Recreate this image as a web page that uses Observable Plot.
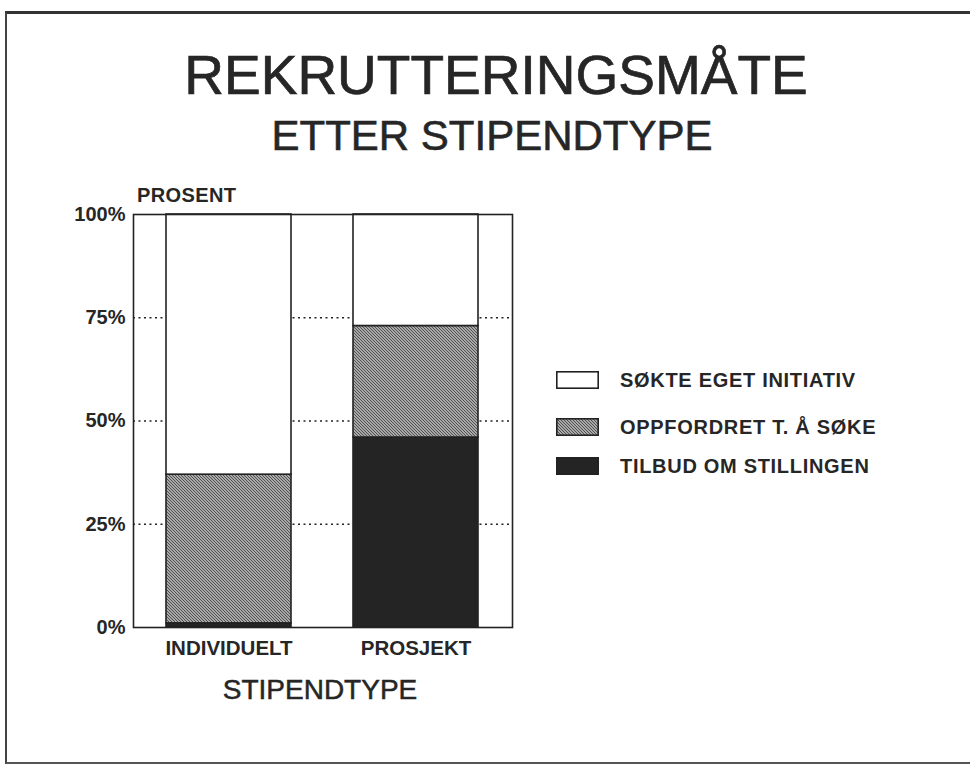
<!DOCTYPE html>
<html>
<head>
<meta charset="utf-8">
<script src="https://cdn.jsdelivr.net/npm/d3@7"></script>
<script src="https://cdn.jsdelivr.net/npm/@observablehq/plot@0.6"></script>
<style>
  html, body { margin: 0; padding: 0; background: #fff; }
  #wrap { position: relative; width: 970px; height: 765px; overflow: hidden; font-family: "Liberation Sans", Arial, Helvetica, sans-serif; color: #262626; }
  #border { position: absolute; left: 5px; top: 11px; width: 1000px; height: 748px; border-top: 3px solid #333; border-left: 2px solid #444; border-bottom: 2px solid #555; }
  .t { position: absolute; line-height: 1; white-space: nowrap; }
  #title { font-size: 55px; left: 496px; top: 48px; transform: translateX(-50%); -webkit-text-stroke: 0.7px #262626; }
  #subtitle { font-size: 42px; left: 492px; top: 115px; transform: translateX(-50%); -webkit-text-stroke: 0.6px #262626; }
  #prosent { font-size: 20px; font-weight: bold; left: 137px; top: 185px; letter-spacing: 0.4px; }
  #xlabel { font-size: 28px; left: 320px; top: 676px; transform: translateX(-50%); -webkit-text-stroke: 0.5px #262626; }
  #chart { position: absolute; left: 0; top: 0; }
  .leg { position: absolute; left: 556px; display: flex; align-items: center; }
  .leg svg { display: block; }
  .leg span { margin-left: 21px; font-size: 20px; font-weight: bold; letter-spacing: 0.7px; line-height: 1; }
  svg.chart g[aria-label="y-axis tick label"] text { font-size: 20px; font-weight: bold; }
  svg.chart g[aria-label="x-axis tick label"] text { font-size: 20.5px; font-weight: bold; }
</style>
</head>
<body>
<div id="wrap">
  <div id="border"></div>
  <div id="chart"></div>
  <div class="t" id="title">REKRUTTERINGSMÅTE</div>
  <div class="t" id="subtitle">ETTER STIPENDTYPE</div>
  <div class="t" id="prosent">PROSENT</div>
  <div class="t" id="xlabel">STIPENDTYPE</div>
  <div id="legend"></div>
</div>
<script>
// ---- data ----
const types = ["INDIVIDUELT", "PROSJEKT"];
const categories = ["TILBUD OM STILLINGEN", "OPPFORDRET T. Å SØKE", "SØKTE EGET INITIATIV"]; // bottom to top
const tilbud = [1, 46];
const oppfordret = [36, 27];
const sokte = [63, 27];
const yTicks = [0, 25, 50, 75, 100];
const legendOrder = ["SØKTE EGET INITIATIV", "OPPFORDRET T. Å SØKE", "TILBUD OM STILLINGEN"];

const series = [tilbud, oppfordret, sokte];
const data = [];
types.forEach((t, i) => {
  categories.forEach((c, j) => data.push({type: t, cat: c, value: series[j][i]}));
});

const fills = ["#242424", "url(#hatch)", "#ffffff"];

const chart = Plot.plot({
  width: 970,
  height: 765,
  marginLeft: 133,
  marginRight: 458,
  marginTop: 214,
  marginBottom: 138,
  className: "chart",
  style: {fontFamily: "'Liberation Sans', Arial, Helvetica, sans-serif", color: "#262626", background: "transparent", overflow: "visible"},
  x: {domain: types, paddingInner: 0.33, paddingOuter: 0.173, label: null},
  y: {domain: [0, 100], label: null},
  color: {domain: categories, range: fills},
  marks: [
    Plot.ruleY([25, 50, 75], {stroke: "#222", strokeWidth: 1.4, strokeDasharray: "2,3.5"}),
    Plot.barY(data, {x: "type", y: "value", fill: "cat", stroke: "#222", strokeWidth: 1.6}),
    Plot.frame({stroke: "#222", strokeWidth: 1.6}),
    Plot.axisY({ticks: yTicks, tickSize: 0, tickPadding: 8, tickFormat: d => d + "%", fontSize: 20, fontWeight: "bold", label: null}),
    Plot.axisX({tickSize: 0, tickPadding: 13, fontSize: 20.5, fontWeight: "bold", label: null})
  ]
});

// hatch pattern (fine "\\\" diagonal texture)
const defs = d3.select(chart).insert("defs", ":first-child");
const pat = defs.append("pattern").attr("id", "hatch").attr("patternUnits", "userSpaceOnUse")
  .attr("width", 3).attr("height", 3);
pat.append("rect").attr("width", 3).attr("height", 3).attr("fill", "#cfcfcf");
pat.append("path").attr("d", "M-1,-1 L4,4 M-1,2 L1,4 M2,-1 L4,1").attr("stroke", "#4a4a4a").attr("stroke-width", 1.1);

document.getElementById("chart").appendChild(chart);

// legend
const legTops = [370, 417, 456];
const legend = document.getElementById("legend");
legendOrder.forEach((c, i) => {
  const row = document.createElement("div");
  row.className = "leg";
  row.style.top = legTops[i] + "px";
  const f = fills[categories.indexOf(c)];
  row.innerHTML = `<svg width="43" height="18"><rect x="0.8" y="0.8" width="41.4" height="16.4" fill="${f}" stroke="#222" stroke-width="1.6"/></svg><span>${c}</span>`;
  legend.appendChild(row);
});
</script>
</body>
</html>
